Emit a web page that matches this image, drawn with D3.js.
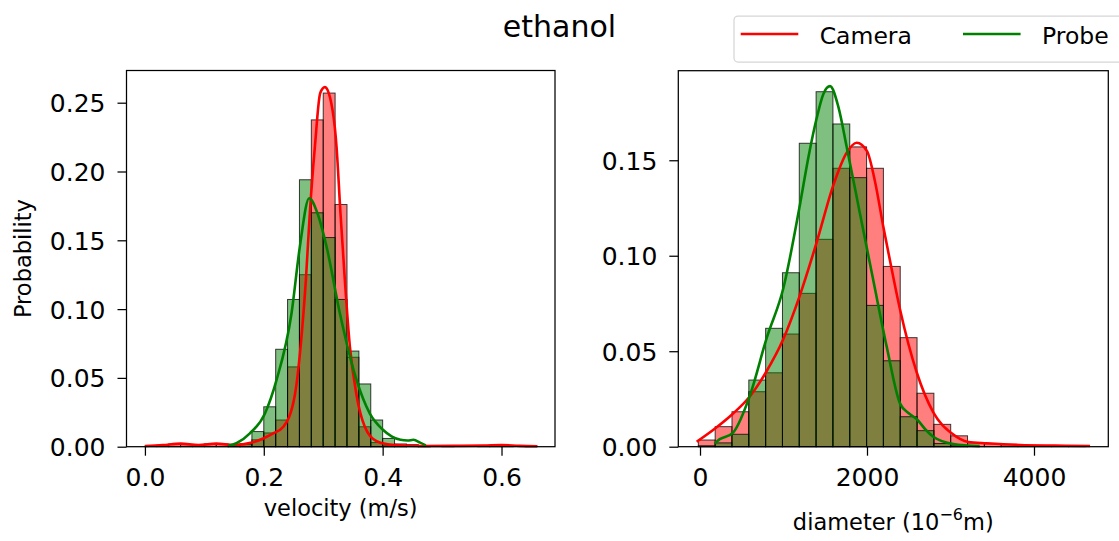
<!DOCTYPE html>
<html>
<head>
<meta charset="utf-8">
<script src="https://cdn.jsdelivr.net/npm/d3@7"></script>
<style>
  body { margin: 0; background: #fff; }
  svg { display: block; }
  text { font-family: 'DejaVu Sans', sans-serif; fill: #000; }
</style>
</head>
<body>
<svg id="chart" width="1119" height="541"></svg>
<script>
'use strict';
const TITLE = 'ethanol';
const SERIES = ['Camera', 'Probe'];
const COLORS = ['red', 'green'];

// velocity histogram: common bins, 0.02 m/s wide starting at 0
const VEL_BIN_START = 0;
const VEL_BIN_WIDTH = 0.02;
const velCamera = [
  0.0005, 0.001, 0.002, 0.0015, 0.001, 0.002, 0.002, 0.001, 0.002, 0.005,
  0.010, 0.0194, 0.058, 0.125, 0.2375, 0.257, 0.176, 0.065, 0.0145, 0.003,
  0.001, 0.0005, 0, 0.0005, 0, 0.0005, 0, 0, 0.0005, 0.001, 0.0005, 0, 0.0005,
];
const velProbe = [
  0, 0, 0, 0, 0, 0, 0, 0.001, 0.002, 0.011,
  0.029, 0.0708, 0.107, 0.194, 0.170, 0.152, 0.107, 0.0695, 0.0456, 0.0194,
  0.006, 0.002, 0.0015, 0.0005, 0, 0, 0, 0, 0, 0, 0, 0, 0,
];
const velCameraKde = [
  [0.0, 0.0005], [0.03, 0.0012], [0.06, 0.0022], [0.09, 0.0012], [0.12, 0.0022],
  [0.15, 0.0012], [0.18, 0.003], [0.199, 0.006], [0.215, 0.0095], [0.233, 0.0145],
  [0.2523, 0.0376], [0.262, 0.073], [0.2708, 0.121], [0.2775, 0.17], [0.286, 0.218],
  [0.295, 0.257], [0.3028, 0.2613], [0.31, 0.256], [0.3224, 0.218], [0.329, 0.17],
  [0.3364, 0.121], [0.3448, 0.073], [0.356, 0.0376], [0.37, 0.0145], [0.39, 0.004],
  [0.42, 0.0012], [0.47, 0.0005], [0.52, 0.0006], [0.57, 0.0008], [0.6, 0.0012],
  [0.63, 0.0006], [0.66, 0.0003],
];
const velProbeKde = [
  [0.14, 0.0005], [0.154, 0.0025], [0.1766, 0.0097], [0.2018, 0.024], [0.2215, 0.0485],
  [0.2467, 0.097], [0.2607, 0.1454], [0.2764, 0.1806], [0.29, 0.17], [0.3056, 0.1454],
  [0.328, 0.097], [0.356, 0.0485], [0.3785, 0.024], [0.4, 0.0125], [0.415, 0.0075],
  [0.43, 0.005], [0.442, 0.0045], [0.452, 0.005], [0.463, 0.003], [0.4727, 0.001],
];

// diameter histogram (10^-6 m)
const DIA_BIN_START = -20;
const DIA_BIN_WIDTH = 201.5;
const diaCamera = [
  0.0035, 0.0105, 0.0183, 0.0288, 0.0387, 0.059, 0.0803, 0.1086, 0.1458, 0.157,
  0.1458, 0.0944, 0.0571, 0.028, 0.0117, 0.0057, 0.002, 0.0015, 0.001, 0.0005,
  0.0003, 0.0003, 0.0003,
];
const diaProbe = [
  0.0005, 0.002, 0.0065, 0.0349, 0.062, 0.0911, 0.1589, 0.1859, 0.169, 0.1409,
  0.074, 0.045, 0.0157, 0.0084, 0.0017, 0.0005, 0, 0, 0, 0,
  0, 0, 0,
];
const diaCameraKde = [
  [-40, 0.0026], [188, 0.0098], [387, 0.017], [591, 0.026], [790, 0.039],
  [994, 0.056], [1194, 0.079], [1397, 0.107], [1597, 0.137], [1757, 0.154],
  [1877, 0.1592], [2000, 0.1548], [2100, 0.138], [2196, 0.115], [2300, 0.092],
  [2395, 0.072], [2595, 0.039], [2794, 0.018], [3014, 0.007], [3214, 0.0025],
  [3434, 0.0018], [3832, 0.0009], [4250, 0.0006], [4671, 0.0004],
];
const diaProbeKde = [
  [180, 0.0015], [200, 0.0026], [399, 0.0075], [599, 0.027], [799, 0.057],
  [998, 0.083], [1198, 0.127], [1300, 0.152], [1397, 0.172], [1480, 0.185],
  [1557, 0.1888], [1657, 0.178], [1757, 0.157], [1916, 0.122], [2076, 0.087],
  [2236, 0.0524], [2395, 0.0227], [2500, 0.0175], [2595, 0.0145], [2700, 0.009],
  [2794, 0.0052], [3034, 0.0014], [3350, 0.0003],
];

const velXTicks = [0, 0.2, 0.4, 0.6];
const velYTicks = [0, 0.05, 0.1, 0.15, 0.2, 0.25];
const diaXTicks = [0, 2000, 4000];
const diaYTicks = [0, 0.05, 0.1, 0.15];

const TICK_FONT = 25;
const LABEL_FONT = 22.5;

const svg = d3.select('#chart');

function drawPanel(opt) {
  const x = d3.scaleLinear().domain(opt.xDomain).range([opt.left, opt.right]);
  const y = d3.scaleLinear().domain(opt.yDomain).range([opt.bottom, opt.top]);
  const g = svg.append('g');

  // histogram bars, camera first, probe on top
  [opt.camera, opt.probe].forEach((vals, k) => {
    g.append('g')
      .selectAll('rect')
      .data(vals)
      .join('rect')
      .attr('x', (d, i) => x(opt.binStart + i * opt.binWidth))
      .attr('width', (d, i) =>
        x(opt.binStart + (i + 1) * opt.binWidth) - x(opt.binStart + i * opt.binWidth))
      .attr('y', (d) => y(d))
      .attr('height', (d) => y(0) - y(d))
      .attr('fill', COLORS[k])
      .attr('fill-opacity', 0.5)
      .attr('stroke', '#000')
      .attr('stroke-opacity', 0.75)
      .attr('stroke-width', 1);
  });

  // kde curves
  let line = d3
    .line()
    .x((d) => x(d[0]))
    .y((d) => y(d[1]))
    .curve(d3.curveMonotoneX);
  [opt.cameraKde, opt.probeKde].forEach((pts, k) => {
    g.append('path')
      .attr('d', line(pts))
      .attr('fill', 'none')
      .attr('stroke', COLORS[k])
      .attr('stroke-width', 2.6);
  });

  // X-Axis
  let xAxis = g
    .append('g')
    .attr('transform', `translate(0,${opt.bottom})`)
    .call(d3.axisBottom(x).tickValues(opt.xTicks).tickFormat(opt.xFormat)
      .tickSizeInner(9).tickSizeOuter(0).tickPadding(13));
  // Y-Axis
  let yAxis = g
    .append('g')
    .attr('transform', `translate(${opt.left},0)`)
    .call(d3.axisLeft(y).tickValues(opt.yTicks).tickFormat(d3.format('.2f'))
      .tickSizeInner(9).tickSizeOuter(0).tickPadding(12));
  [xAxis, yAxis].forEach((ax) => {
    ax.select('.domain').remove();
    ax.selectAll('.tick line').attr('stroke', '#000').attr('stroke-width', 1.25);
    ax.selectAll('.tick text')
      .attr('font-family', "'DejaVu Sans', sans-serif")
      .attr('font-size', TICK_FONT)
      .attr('fill', '#000');
    ax.attr('font-size', null).attr('font-family', null);
  });
  yAxis.selectAll('.tick text').attr('dy', '0.36em');

  // frame
  g.append('rect')
    .attr('x', opt.left)
    .attr('y', opt.top)
    .attr('width', opt.right - opt.left)
    .attr('height', opt.bottom - opt.top)
    .attr('fill', 'none')
    .attr('stroke', '#000')
    .attr('stroke-width', 1.25);

  return { x, y, g };
}

const left = drawPanel({
  left: 126.5, right: 555, top: 70.5, bottom: 446.7,
  xDomain: [-0.031, 0.69], yDomain: [0, 0.2734],
  binStart: VEL_BIN_START, binWidth: VEL_BIN_WIDTH,
  camera: velCamera, probe: velProbe,
  cameraKde: velCameraKde, probeKde: velProbeKde,
  xTicks: velXTicks, yTicks: velYTicks, xFormat: d3.format('.1f'),
});

const right = drawPanel({
  left: 678.3, right: 1108.3, top: 70.7, bottom: 446.7,
  xDomain: [-260, 4890], yDomain: [0, 0.1969],
  binStart: DIA_BIN_START, binWidth: DIA_BIN_WIDTH,
  camera: diaCamera, probe: diaProbe,
  cameraKde: diaCameraKde, probeKde: diaProbeKde,
  xTicks: diaXTicks, yTicks: diaYTicks, xFormat: d3.format('d'),
});

// axis labels
svg.append('text')
  .attr('x', 340.7).attr('y', 516)
  .attr('text-anchor', 'middle')
  .attr('font-size', LABEL_FONT)
  .text('velocity (m/s)');

let dia = svg.append('text')
  .attr('x', 893.3).attr('y', 530)
  .attr('text-anchor', 'middle')
  .attr('font-size', LABEL_FONT);
dia.append('tspan').text('diameter (10');
dia.append('tspan').attr('dy', -10).attr('font-size', 16).text('\u22126');
dia.append('tspan').attr('dy', 10).text('m)');

svg.append('text')
  .attr('transform', 'translate(31,258.6) rotate(-90)')
  .attr('text-anchor', 'middle')
  .attr('font-size', LABEL_FONT)
  .text('Probability');

// title
svg.append('text')
  .attr('x', 559.5).attr('y', 37)
  .attr('text-anchor', 'middle')
  .attr('font-size', 30)
  .text(TITLE);

// legend
let legend = svg.append('g');
legend.append('rect')
  .attr('x', 734).attr('y', 16)
  .attr('width', 420).attr('height', 46)
  .attr('rx', 4)
  .attr('fill', '#fff').attr('fill-opacity', 0.8)
  .attr('stroke', '#d6d6d6').attr('stroke-width', 1.25);
const legendX = [740.7, 963];
SERIES.forEach((name, i) => {
  legend.append('line')
    .attr('x1', legendX[i]).attr('x2', legendX[i] + 57.6)
    .attr('y1', 34).attr('y2', 34)
    .attr('stroke', COLORS[i]).attr('stroke-width', 2.6);
  legend.append('text')
    .attr('x', legendX[i] + 79).attr('y', 44.3)
    .attr('font-size', 23.5)
    .text(name);
});
</script>
</body>
</html>
